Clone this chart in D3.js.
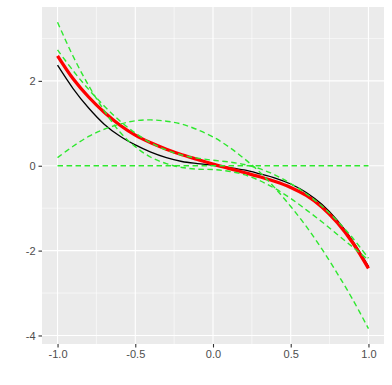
<!DOCTYPE html>
<html>
<head>
<meta charset="utf-8">
<script src="https://cdn.jsdelivr.net/npm/d3@7"></script>
<style>
  body { margin: 0; background: #fff; }
  text { font-family: "Liberation Sans", Arial, sans-serif; }
</style>
</head>
<body>
<svg width="392" height="385"></svg>
<script>
// x grid shared by every curve
const xs = [-1, -0.9, -0.8, -0.7, -0.6, -0.5, -0.4, -0.3, -0.2, -0.1, 0,
            0.1, 0.2, 0.3, 0.4, 0.5, 0.6, 0.7, 0.8, 0.9, 1]

// true function (black)
const trueY = [2.37, 1.82, 1.36, 0.98, 0.70, 0.49, 0.32, 0.19, 0.10, 0.05, 0.01,
               -0.04, -0.10, -0.19, -0.29, -0.43, -0.63, -0.91, -1.29, -1.78, -2.37]

// average fit (red)
const meanY = [2.59, 2.05, 1.62, 1.26, 0.96, 0.72, 0.54, 0.39, 0.26, 0.15, 0.04,
               -0.06, -0.16, -0.26, -0.37, -0.51, -0.70, -0.97, -1.34, -1.82, -2.42]

// individual fits (green dashed)
const fit0 = [0, 0, 0, 0, 0, 0, 0, 0, 0, 0, 0,
              0, 0, 0, 0, 0, 0, 0, 0, 0, 0]
const fit1 = [0.19, 0.46, 0.69, 0.86, 0.98, 1.06, 1.08, 1.05, 0.98, 0.85, 0.68,
              0.45, 0.17, -0.15, -0.53, -0.96, -1.43, -1.96, -2.54, -3.16, -3.84]
const fit2 = [3.38, 2.58, 1.89, 1.30, 0.80, 0.45, 0.20, 0.05, -0.04, -0.08, -0.09,
              -0.13, -0.21, -0.35, -0.54, -0.77, -1.04, -1.32, -1.62, -1.92, -2.22]
const fit3 = [2.73, 2.24, 1.80, 1.41, 1.06, 0.77, 0.54, 0.37, 0.25, 0.18, 0.13,
              0.09, 0.03, -0.07, -0.22, -0.42, -0.66, -0.95, -1.30, -1.71, -2.18]
const fits = [fit0, fit1, fit2, fit3]

const xTicks = [-1, -0.5, 0, 0.5, 1]
const yTicks = [-4, -2, 0, 2]

const svg = d3.select('svg')
const margin = {left: 42, right: 8, top: 7, bottom: 41}
const width = +svg.attr('width')
const height = +svg.attr('height')
const innerWidth = width - margin.left - margin.right
const innerHeight = height - margin.top - margin.bottom

const allY = [trueY, meanY, ...fits].flat()
const yMin = d3.min(allY), yMax = d3.max(allY)
const yPad = (yMax - yMin) * 0.05

const xScale = d3.scaleLinear()
  .domain([-1.1, 1.1])
  .range([0, innerWidth])

const yScale = d3.scaleLinear()
  .domain([yMin - yPad, yMax + yPad])
  .range([innerHeight, 0])

const g = svg.append('g')
  .attr('transform', `translate(${margin.left}, ${margin.top})`)

g.append('rect')
  .attr('width', innerWidth)
  .attr('height', innerHeight)
  .attr('fill', '#ebebeb')

// minor grid
const xMinor = [-0.75, -0.25, 0.25, 0.75]
const yMinor = [-3, -1, 1, 3]
g.selectAll('.xminor').data(xMinor).enter().append('line')
  .attr('x1', d => xScale(d)).attr('x2', d => xScale(d))
  .attr('y1', 0).attr('y2', innerHeight)
  .attr('stroke', '#fff').attr('stroke-width', 0.55)
g.selectAll('.yminor').data(yMinor).enter().append('line')
  .attr('y1', d => yScale(d)).attr('y2', d => yScale(d))
  .attr('x1', 0).attr('x2', innerWidth)
  .attr('stroke', '#fff').attr('stroke-width', 0.55)

// major grid
g.selectAll('.xmajor').data(xTicks).enter().append('line')
  .attr('x1', d => xScale(d)).attr('x2', d => xScale(d))
  .attr('y1', 0).attr('y2', innerHeight)
  .attr('stroke', '#fff').attr('stroke-width', 1.1)
g.selectAll('.ymajor').data(yTicks).enter().append('line')
  .attr('y1', d => yScale(d)).attr('y2', d => yScale(d))
  .attr('x1', 0).attr('x2', innerWidth)
  .attr('stroke', '#fff').attr('stroke-width', 1.1)

const fmtX = d => d3.format('.1f')(d).replace('−', '-')
const fmtY = d => String(d)

const xAxisG = g.append('g')
  .attr('transform', `translate(0, ${innerHeight})`)
  .call(d3.axisBottom(xScale).tickValues(xTicks).tickFormat(fmtX).tickSize(3.5).tickPadding(3))
const yAxisG = g.append('g')
  .call(d3.axisLeft(yScale).tickValues(yTicks).tickFormat(fmtY).tickSize(3.5).tickPadding(3))

;[xAxisG, yAxisG].forEach(a => {
  a.select('.domain').remove()
  a.selectAll('.tick line').attr('stroke', '#333').attr('stroke-width', 1.1)
  a.selectAll('.tick text').attr('fill', '#4d4d4d').style('font-size', '11px')
})

const line = ys => d3.line()
  .x((d, i) => xScale(xs[i]))
  .y(d => yScale(d))
  .curve(d3.curveCatmullRom)(ys)

g.append('path')
  .attr('d', line(trueY))
  .attr('fill', 'none')
  .attr('stroke', '#000')
  .attr('stroke-width', 1.3)

g.append('path')
  .attr('d', line(meanY))
  .attr('fill', 'none')
  .attr('stroke', '#ff0000')
  .attr('stroke-width', 3.3)

g.selectAll('.fit')
  .data(fits)
  .enter()
  .append('path')
  .attr('d', d => line(d))
  .attr('fill', 'none')
  .attr('stroke', '#2ee82e')
  .attr('stroke-width', 1.4)
  .attr('stroke-dasharray', '5.5,3.5')
</script>
</body>
</html>
